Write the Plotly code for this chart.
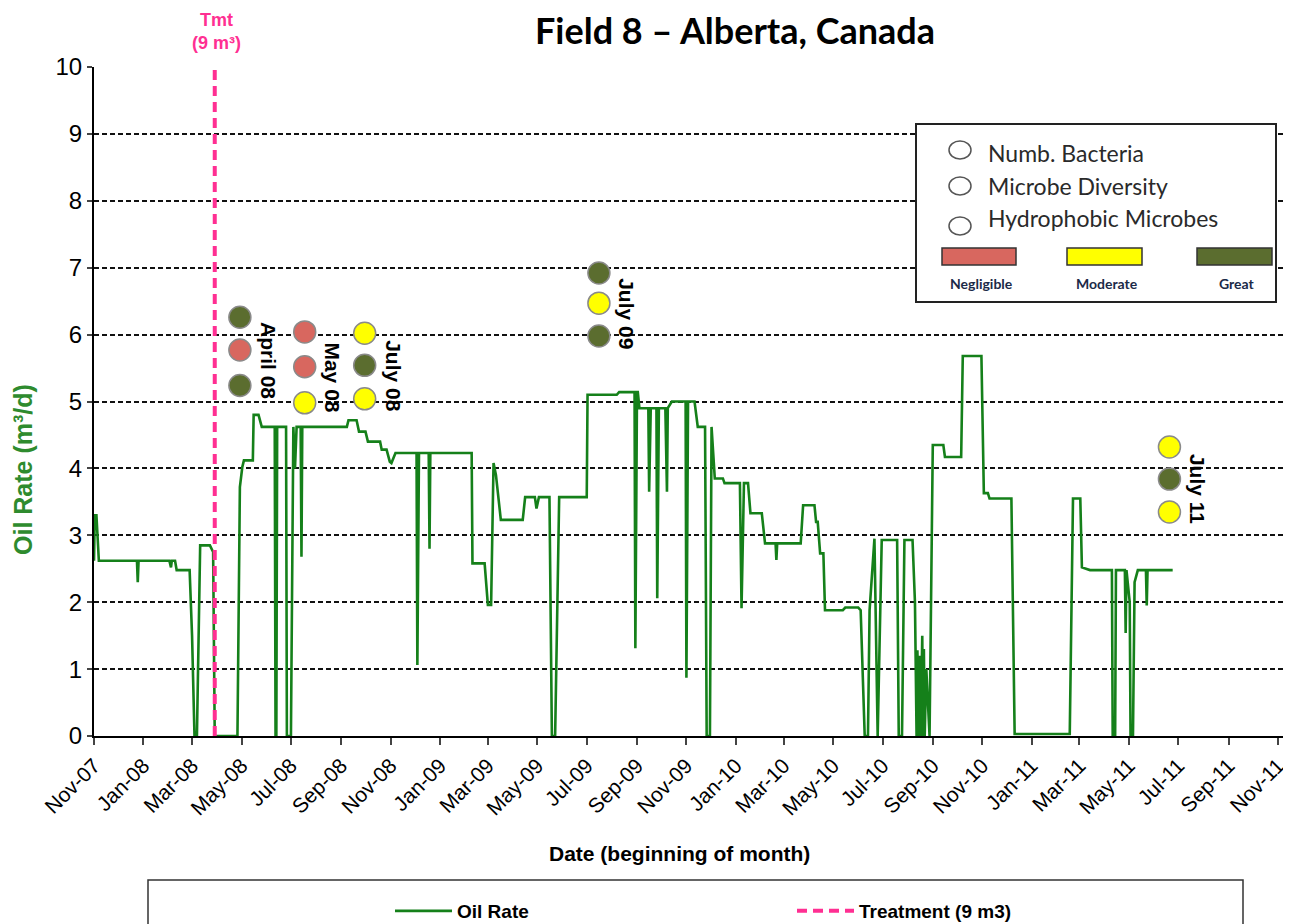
import plotly.graph_objects as go

# Oil rate series (m3/d)
dates = [
    "2007-11-01", "2007-11-02", "2007-11-04", "2007-11-07", "2007-12-24", "2007-12-25", "2007-12-26",
    "2008-02-02", "2008-02-04", "2008-02-05", "2008-02-09", "2008-02-10", "2008-02-11", "2008-02-27",
    "2008-03-01", "2008-03-04", "2008-03-07", "2008-03-11", "2008-03-23", "2008-03-27", "2008-03-29",
    "2008-04-26", "2008-04-29", "2008-05-02", "2008-05-04", "2008-05-15", "2008-05-16", "2008-05-22",
    "2008-05-26", "2008-06-11", "2008-06-12", "2008-06-13", "2008-06-14", "2008-06-25", "2008-06-26",
    "2008-07-01", "2008-07-04", "2008-07-06", "2008-07-08", "2008-07-13", "2008-07-14", "2008-07-15",
    "2008-09-08", "2008-09-10", "2008-09-20", "2008-09-23", "2008-10-01", "2008-10-04", "2008-10-19",
    "2008-10-21", "2008-10-27", "2008-10-31", "2008-11-02", "2008-11-07", "2008-12-03", "2008-12-04",
    "2008-12-06", "2008-12-18", "2008-12-19", "2008-12-20", "2009-02-09", "2009-02-10", "2009-02-25",
    "2009-03-01", "2009-03-05", "2009-03-08", "2009-03-11", "2009-03-17", "2009-04-13", "2009-04-16",
    "2009-04-28", "2009-04-30", "2009-05-03", "2009-05-16", "2009-05-19", "2009-05-23", "2009-05-28",
    "2009-07-01", "2009-07-02", "2009-08-07", "2009-08-10", "2009-08-29", "2009-08-30", "2009-09-01",
    "2009-09-02", "2009-09-04", "2009-09-15", "2009-09-16", "2009-09-18", "2009-09-25", "2009-09-26",
    "2009-09-28", "2009-10-06", "2009-10-08", "2009-10-09", "2009-10-14", "2009-10-31", "2009-11-01",
    "2009-11-03", "2009-11-11", "2009-11-15", "2009-11-24", "2009-11-26", "2009-11-30", "2009-12-02",
    "2009-12-06", "2009-12-16", "2009-12-18", "2010-01-06", "2010-01-08", "2010-01-11", "2010-01-16",
    "2010-01-19", "2010-02-02", "2010-02-06", "2010-02-19", "2010-02-20", "2010-02-21", "2010-03-22",
    "2010-03-25", "2010-04-08", "2010-04-10", "2010-04-12", "2010-04-15", "2010-04-19", "2010-04-21",
    "2010-05-13", "2010-05-16", "2010-06-01", "2010-06-04", "2010-06-09", "2010-06-13", "2010-06-15",
    "2010-06-21", "2010-06-25", "2010-06-30", "2010-07-19", "2010-07-21", "2010-07-25", "2010-07-28",
    "2010-08-07", "2010-08-10", "2010-08-12", "2010-08-13", "2010-08-15", "2010-08-16", "2010-08-17",
    "2010-08-19", "2010-08-20", "2010-08-21", "2010-08-22", "2010-08-24", "2010-08-28", "2010-09-01",
    "2010-09-14", "2010-09-16", "2010-10-06", "2010-10-08", "2010-10-31", "2010-11-03", "2010-11-08",
    "2010-11-10", "2010-12-07", "2010-12-11", "2011-02-17", "2011-02-21", "2011-03-02", "2011-03-04",
    "2011-03-14", "2011-04-10", "2011-04-11", "2011-04-14", "2011-04-15", "2011-04-26", "2011-04-27",
    "2011-04-28", "2011-05-02", "2011-05-03", "2011-05-06", "2011-05-08", "2011-05-12", "2011-05-22",
    "2011-05-23", "2011-05-24", "2011-06-24",
]
oil_rate = [
    2.62, 3.30, 3.30, 2.62, 2.62, 2.30, 2.62,
    2.62, 2.52, 2.62, 2.62, 2.52, 2.48, 2.48,
    1.50, 0.00, 0.00, 2.85, 2.85, 2.75, 0.00,
    0.00, 3.72, 4.02, 4.12, 4.12, 4.80, 4.80,
    4.62, 4.62, 0.00, 0.00, 4.62, 4.62, 0.00,
    0.00, 4.62, 4.00, 4.62, 4.62, 2.68, 4.62,
    4.62, 4.72, 4.72, 4.55, 4.55, 4.40, 4.40,
    4.28, 4.28, 4.10, 4.08, 4.23, 4.23, 1.06,
    4.23, 4.23, 2.80, 4.23, 4.23, 2.58, 2.58,
    1.96, 1.96, 4.08, 3.90, 3.23, 3.23, 3.57,
    3.57, 3.40, 3.57, 3.57, 0.00, 0.00, 3.57,
    3.57, 5.10, 5.10, 5.14, 5.14, 1.31, 5.14,
    5.14, 4.90, 4.90, 3.65, 4.90, 4.90, 2.06,
    4.90, 4.90, 3.65, 4.90, 5.00, 5.00, 0.87,
    5.00, 5.00, 4.62, 4.62, 0.00, 0.00, 4.62,
    3.85, 3.85, 3.78, 3.78, 1.91, 3.78, 3.78,
    3.33, 3.33, 2.88, 2.88, 2.63, 2.88, 2.88,
    3.45, 3.45, 3.20, 3.20, 2.73, 2.73, 1.88,
    1.88, 1.92, 1.92, 1.88, 0.00, 0.00, 1.88,
    2.95, 0.00, 2.93, 2.93, 0.00, 0.00, 2.93,
    2.93, 2.00, 0.00, 1.28, 0.00, 1.20, 0.00,
    1.50, 0.00, 1.30, 0.00, 1.00, 0.00, 4.35,
    4.35, 4.17, 4.17, 5.68, 5.68, 3.63, 3.63,
    3.55, 3.55, 0.03, 0.03, 3.55, 3.55, 2.52,
    2.48, 2.48, 0.00, 0.00, 2.48, 2.48, 1.54,
    2.48, 2.00, 0.00, 0.00, 2.30, 2.48, 2.48,
    1.95, 2.48, 2.48,
]

treatment_date = "2008-03-29"

# Microbial sampling groups (top: Numb. Bacteria, middle: Microbe Diversity, bottom: Hydrophobic Microbes)
sample_labels = ["April 08", "May 08", "July 08", "July 09", "July 11"]
sample_dates = ["2008-04-29", "2008-07-18", "2008-09-30", "2009-07-16", "2011-06-20"]
sample_levels = [
    ["Great", "Negligible", "Great"],
    ["Negligible", "Negligible", "Moderate"],
    ["Moderate", "Great", "Moderate"],
    ["Great", "Moderate", "Great"],
    ["Moderate", "Great", "Moderate"],
]
sample_y = [
    [6.26, 5.77, 5.24],
    [6.04, 5.52, 4.98],
    [6.02, 5.54, 5.04],
    [6.92, 6.47, 5.98],
    [4.32, 3.84, 3.35],
]
level_names = ["Negligible", "Moderate", "Great"]
indicator_names = ["Numb. Bacteria", "Microbe Diversity", "Hydrophobic Microbes"]

level_colors = {"Negligible": "#d8675f", "Moderate": "#ffff00", "Great": "#5b6d2f"}
GREEN = "#15801a"
PINK = "#ff2f92"
ARIAL = "Liberation Sans, Arial, sans-serif"
CALIBRI = "Lato, Open Sans, sans-serif"

# page is drawn with an 8px body margin; the numbers below are in picture pixels
OFF = 8
W, H = 1291 - OFF, 924 - OFF
PLOT_L, PLOT_R, PLOT_T, PLOT_B = 94, 1291, 67, 736


def px(x):
    return (x - PLOT_L) / (PLOT_R - PLOT_L)


def py(y):
    return (PLOT_B - y) / (PLOT_B - PLOT_T)


fig = go.Figure()

fig.add_trace(go.Scatter(
    x=dates, y=oil_rate, mode="lines", name="<b>Oil Rate</b>",
    line=dict(color=GREEN, width=2.6),
))
fig.add_trace(go.Scatter(
    x=[treatment_date, treatment_date], y=[0, 10], mode="lines", name="<b>Treatment (9 m3)</b>",
    line=dict(color=PINK, width=4, dash="10px,6px"), cliponaxis=False,
))

# sampling dots
for d, levels, ys in zip(sample_dates, sample_levels, sample_y):
    fig.add_trace(go.Scatter(
        x=[d] * len(ys), y=ys, mode="markers", showlegend=False,
        marker=dict(size=22, color=[level_colors[lv] for lv in levels],
                    line=dict(color="#8a8a8a", width=1.5)),
        hoverinfo="skip",
    ))

for lab, d, ys in zip(sample_labels, sample_dates, sample_y):
    fig.add_annotation(
        x=d, y=sum(ys) / len(ys), text=f"<b>{lab}</b>", textangle=90,
        showarrow=False, xshift=28, yshift=-10, xanchor="center", yanchor="middle",
        font=dict(family=ARIAL, size=21, color="black"),
    )


def note(x, y, text, size, color="black", family=ARIAL, xanchor="center", angle=0):
    fig.add_annotation(x=px(x), y=py(y), xref="paper", yref="paper", text=text,
                       xanchor=xanchor, yanchor="middle", textangle=angle,
                       showarrow=False, font=dict(family=family, size=size, color=color))


shapes = []
# status legend box (top right)
shapes.append(dict(type="rect", xref="paper", yref="paper", x0=px(916), x1=px(1276),
                   y0=py(302), y1=py(124), fillcolor="white",
                   line=dict(color="#222", width=2), layer="above"))
for yy, ty, name in zip([150, 186, 226], [153, 186, 218], indicator_names):
    shapes.append(dict(type="circle", xref="paper", yref="paper", xsizemode="pixel",
                       ysizemode="pixel", xanchor=px(960), yanchor=py(yy),
                       x0=-11, x1=11, y0=-9, y1=9, line=dict(color="#555", width=1.5),
                       fillcolor="white", layer="above"))
    note(986, ty, name, 23, color="#2a2a2a", family=CALIBRI, xanchor="left")
for (x0, x1), name in zip([(942, 1016), (1067, 1142), (1197, 1272)], level_names):
    shapes.append(dict(type="rect", xref="paper", yref="paper", x0=px(x0), x1=px(x1),
                       y0=py(265), y1=py(248), fillcolor=level_colors[name],
                       line=dict(color="#333", width=1.5), layer="above"))
    note((x0 + x1) / 2 + 2, 283, f"<b>{name}</b>", 14, color="#1b2a48", family=CALIBRI)

# series legend box (bottom)
shapes.append(dict(type="rect", xref="paper", yref="paper", x0=px(148), x1=px(1243),
                   y0=py(940), y1=py(880), line=dict(color="#333", width=1.5)))
fig.update_layout(shapes=shapes)

note(735, 30, "<b>Field 8 – Alberta, Canada</b>", 36, family=CALIBRI)
note(216, 31, "<b>Tmt<br>(9 m³)</b>", 18, color=PINK)
note(23, 470, "<b>Oil Rate (m³/d)</b>", 25, color="#2e8b2e", angle=-90)
note(679, 853, "<b>Date (beginning of month)</b>", 21)

fig.update_layout(
    width=W, height=H,
    margin=dict(l=PLOT_L - OFF, r=OFF + W - PLOT_R, t=PLOT_T - OFF, b=OFF + H - PLOT_B,
                autoexpand=False),
    paper_bgcolor="white", plot_bgcolor="white",
    showlegend=True,
    legend=dict(orientation="h", x=px(390), y=py(892), xanchor="left", yanchor="top",
                entrywidth=330, entrywidthmode="pixels", itemwidth=57,
                font=dict(family=ARIAL, size=19, color="black"),
                bgcolor="rgba(0,0,0,0)", traceorder="normal"),
    xaxis=dict(
        type="date", range=["2007-11-01", "2011-11-17"],
        tick0="2007-11-01", dtick="M2", tickformat="%b-%y", tickangle=-45,
        ticks="outside", ticklen=7, tickwidth=1.5, tickcolor="#444",
        showgrid=False, showline=True, linecolor="black", linewidth=2, zeroline=False,
        tickfont=dict(family=ARIAL, size=21, color="black"), automargin=False,
    ),
    yaxis=dict(
        range=[0, 10], dtick=1, ticks="outside", ticklen=5, tickwidth=1.5,
        showgrid=True, gridcolor="#111", gridwidth=1.5, griddash="5px,3px",
        showline=True, linecolor="black", linewidth=2, zeroline=False,
        tickfont=dict(family=ARIAL, size=24, color="black"), automargin=False,
    ),
)

fig.write_html("out.html")
